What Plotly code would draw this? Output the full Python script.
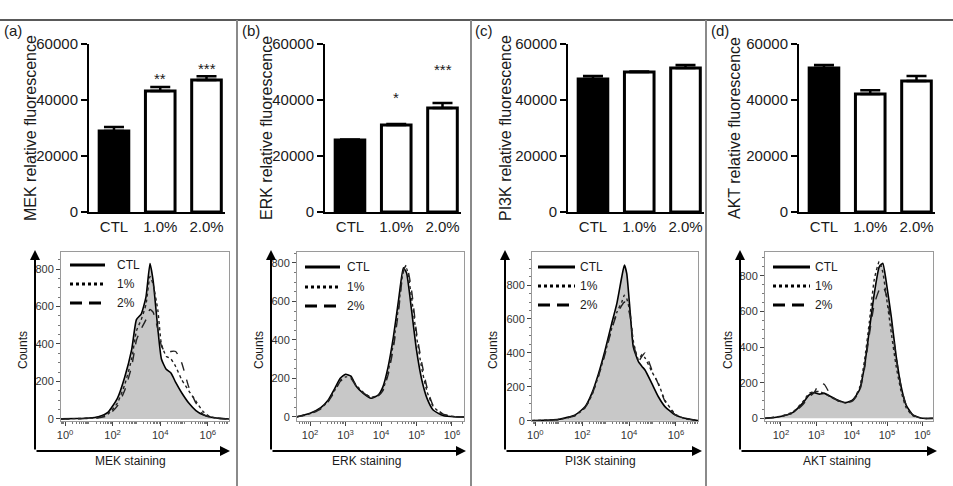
import numpy as np
import plotly.graph_objects as go

W, H = 953, 486
FONT = "Arial, Liberation Sans, sans-serif"

# ---------------- data ----------------
CATEGORIES = ["CTL", "1.0%", "2.0%"]
PROTEINS = ["MEK", "ERK", "PI3K", "AKT"]
PANEL_LABELS = ["(a)", "(b)", "(c)", "(d)"]
BAR_TICKS = [0, 20000, 40000, 60000]

MEK_MEAN = [28900, 43200, 47100]
MEK_ERR = [1450, 1400, 1400]
ERK_MEAN = [25700, 31100, 37100]
ERK_ERR = [150, 300, 1800]
PI3K_MEAN = [47500, 50000, 51400]
PI3K_ERR = [1100, 150, 1100]
AKT_MEAN = [51400, 42100, 46800]
AKT_ERR = [1100, 1400, 1800]

MEK_SIG = ["", "**", "***"]
ERK_SIG = ["", "*", "***"]
PI3K_SIG = ["", "", ""]
AKT_SIG = ["", "", ""]
MEK_SIG_Y = [0, 47600, 51400]
ERK_SIG_Y = [0, 40800, 51000]
PI3K_SIG_Y = [0, 0, 0]
AKT_SIG_Y = [0, 0, 0]

HIST_LEGEND = ["CTL", "1%", "2%"]

# histogram curves: x as log10(staining), y as counts
MEK_LOGX = [-0.2, 0.5, 1.0, 1.4, 1.8, 2.2, 2.5, 2.8, 3.0, 3.2, 3.4, 3.57, 3.7, 3.9, 4.05,
            4.25, 4.45, 4.65, 4.9, 5.2, 5.5, 5.8, 6.1, 6.5, 6.9]
MEK_CTL = [0, 2, 5, 12, 35, 110, 220, 370, 530, 560, 650, 830, 740, 480, 320,
           265, 245, 195, 140, 85, 45, 22, 10, 3, 0]
MEK_1 = [0, 2, 4, 8, 25, 85, 180, 320, 470, 530, 610, 760, 720, 580, 400,
         335, 320, 280, 210, 150, 95, 40, 12, 3, 0]
MEK_2 = [0, 1, 3, 6, 18, 70, 150, 280, 420, 480, 530, 585, 570, 480, 390,
         350, 360, 360, 300, 170, 85, 25, 8, 2, 0]

ERK_LOGX = [1.6, 2.0, 2.3, 2.5, 2.7, 2.85, 3.0, 3.15, 3.3, 3.5, 3.72, 3.92, 4.05, 4.2,
            4.35, 4.5, 4.63, 4.72, 4.86, 5.0, 5.15, 5.3, 5.47, 5.75, 6.1, 6.35]
ERK_CTL = [0, 19, 48, 85, 150, 201, 222, 212, 160, 123, 97, 114, 155, 260,
           417, 615, 775, 748, 556, 348, 192, 95, 36, 7, 0, 0]
ERK_1 = [0, 17, 45, 80, 140, 190, 208, 205, 165, 128, 103, 112, 140, 235,
         385, 580, 755, 770, 620, 420, 250, 130, 55, 12, 2, 0]
ERK_2 = [0, 15, 42, 78, 135, 185, 205, 200, 160, 125, 100, 110, 135, 220,
         360, 560, 760, 790, 660, 440, 280, 150, 60, 15, 2, 0]

PI3K_LOGX = [-0.15, 1.0, 1.7, 2.13, 2.41, 2.7, 2.98, 3.26, 3.48, 3.69, 3.8, 3.9, 4.04,
             4.18, 4.4, 4.55, 4.68, 4.97, 5.25, 5.53, 5.96, 6.38, 6.95]
PI3K_CTL = [0, 8, 34, 83, 161, 279, 417, 574, 692, 849, 918, 869, 653,
            436, 348, 320, 299, 220, 141, 83, 34, 14, 0]
PI3K_1 = [0, 7, 30, 78, 150, 265, 400, 545, 640, 700, 740, 720, 640,
          470, 360, 390, 370, 290, 220, 120, 40, 12, 0]
PI3K_2 = [0, 7, 30, 78, 150, 265, 395, 540, 630, 680, 700, 690, 620,
          460, 350, 380, 400, 300, 215, 115, 35, 12, 0]

AKT_LOGX = [1.55, 1.95, 2.33, 2.61, 2.8, 2.94, 3.09, 3.23, 3.42, 3.6, 3.84, 4.03, 4.22,
            4.36, 4.5, 4.64, 4.78, 4.88, 4.97, 5.12, 5.26, 5.4, 5.54, 5.73, 6.01, 6.3]
AKT_CTL = [0, 9, 32, 84, 131, 144, 136, 140, 121, 103, 88, 103, 159,
           289, 495, 701, 850, 870, 776, 570, 346, 177, 75, 19, 0, 0]
AKT_1 = [0, 10, 35, 90, 140, 150, 150, 140, 118, 100, 85, 100, 170,
         320, 540, 780, 880, 820, 700, 480, 290, 150, 60, 15, 0, 0]
AKT_2 = [0, 8, 28, 75, 120, 145, 195, 190, 125, 100, 88, 98, 150,
         275, 470, 640, 720, 740, 700, 540, 340, 175, 75, 18, 0, 0]

HIST_TICK_EXP_WIDE = [0, 2, 4, 6]
HIST_TICK_EXP_NARROW = [2, 3, 4, 5, 6]
HIST_Y_TICKS = [0, 200, 400, 600, 800]

# ---------------- layout geometry (pixels) ----------------
BAR_AXIS_PX = [89, 325, 568, 799]
BAR_W_PX = 136
BAR_TOP, BAR_BOT = 44, 212
HIST_BOX = [(61, 229), (297, 464), (532, 698), (765, 933)]
HIST_TOP, HIST_BOT = 252, 421
HIST_XRANGE = [(-0.17, 6.89), (1.63, 6.34), (-0.14, 6.94), (1.55, 6.3)]
HIST_YRANGE = [(-11, 891), (-21, 857), (-2, 995), (-15, 933)]
ARROW_X = [35, 271, 505, 740]
ARROW_END = [230, 466, 702, 937]
ARROW_Y0, ARROW_TOP = 451, 250
COUNTS_X = [23, 259, 493, 728]
STAIN_X = [130, 366, 600, 837]
BARTITLE_X = [30, 266, 505, 734]
PANEL_X = [13, 251, 484, 720]
LEG_X0 = [70, 305, 538, 773]
LEG_X1 = [105, 340, 575, 810]
LEG_TX = [115, 345, 578, 813]
LEG_Y = [[265, 284, 303], [267, 287, 306], [267, 286, 305], [267, 286, 305]]
SEPARATORS = [237, 471, 706]
TXT = "#1a1a1a"


def px(x):
    return x / W


def py(y):
    return 1 - y / H


def label(x, y, text, size, angle=0, xanchor="center"):
    return dict(x=px(x), y=py(y), xref="paper", yref="paper", text=text,
                textangle=angle, showarrow=False, xanchor=xanchor, yanchor="middle",
                font=dict(size=size, family=FONT, color=TXT))


means = [MEK_MEAN, ERK_MEAN, PI3K_MEAN, AKT_MEAN]
errs = [MEK_ERR, ERK_ERR, PI3K_ERR, AKT_ERR]
sigs = [MEK_SIG, ERK_SIG, PI3K_SIG, AKT_SIG]
sig_ys = [MEK_SIG_Y, ERK_SIG_Y, PI3K_SIG_Y, AKT_SIG_Y]
hx = [MEK_LOGX, ERK_LOGX, PI3K_LOGX, AKT_LOGX]
hctl = [MEK_CTL, ERK_CTL, PI3K_CTL, AKT_CTL]
h1 = [MEK_1, ERK_1, PI3K_1, AKT_1]
h2 = [MEK_2, ERK_2, PI3K_2, AKT_2]

fig = go.Figure()
layout = dict(
    width=W, height=H, margin=dict(l=0, r=0, t=0, b=0, pad=0, autoexpand=False),
    paper_bgcolor="white", plot_bgcolor="white",
    font=dict(family=FONT, color=TXT),
    showlegend=False,
)
annotations = []
shapes = []

for i in range(4):
    # ---------- bar chart ----------
    bx, by = f"x{i + 1}", f"y{i + 1}"
    fig.add_trace(go.Bar(
        x=[0, 1, 2], y=means[i], width=0.64,
        marker=dict(color=["black", "white", "white"], line=dict(color="black", width=3)),
        error_y=dict(type="data", array=errs[i], arrayminus=[0, 0, 0], symmetric=False,
                     color="black", thickness=2.5, width=10),
        xaxis=bx, yaxis=by, hoverinfo="skip",
    ))
    a0 = BAR_AXIS_PX[i]
    layout[f"xaxis{i + 1}"] = dict(
        domain=[px(a0), px(a0 + BAR_W_PX)], range=[-0.54, 2.4], anchor=by,
        tickvals=[0, 1, 2], ticktext=CATEGORIES, ticks="", showline=True,
        linecolor="black", linewidth=2, showgrid=False, zeroline=False, automargin=False,
        tickfont=dict(size=15, family=FONT, color=TXT),
    )
    layout[f"yaxis{i + 1}"] = dict(
        domain=[py(BAR_BOT), py(BAR_TOP)], range=[0, 60000], anchor=bx,
        tickvals=BAR_TICKS, ticktext=[str(t) for t in BAR_TICKS], ticks="outside",
        ticklen=6, tickwidth=2, tickcolor="black", showline=True, linecolor="black",
        linewidth=2, showgrid=False, zeroline=False, automargin=False,
        tickfont=dict(size=15, family=FONT, color=TXT),
    )
    for k in range(3):
        if sigs[i][k]:
            annotations.append(dict(
                x=k, y=sig_ys[i][k], xref=bx, yref=by, text=sigs[i][k], showarrow=False,
                font=dict(size=15, family=FONT, color=TXT), xanchor="center",
                yanchor="middle",
            ))
    annotations.append(label(BARTITLE_X[i], 128, f"{PROTEINS[i]} relative fluorescence",
                             16, angle=-90))
    annotations.append(label(PANEL_X[i], 31, PANEL_LABELS[i], 15))

    # ---------- histogram ----------
    j = i + 5
    hxa, hya = f"x{j}", f"y{j}"
    xv = 10 ** np.array(hx[i], dtype=float)
    fig.add_trace(go.Scatter(
        x=xv, y=hctl[i], mode="lines", fill="tozeroy", fillcolor="#c8c8c8",
        line=dict(color="black", width=1.6, shape="spline", smoothing=0.5),
        xaxis=hxa, yaxis=hya, hoverinfo="skip",
    ))
    fig.add_trace(go.Scatter(
        x=xv, y=h1[i], mode="lines",
        line=dict(color="#222222", width=1.4, dash="dot", shape="spline", smoothing=0.5),
        xaxis=hxa, yaxis=hya, hoverinfo="skip",
    ))
    fig.add_trace(go.Scatter(
        x=xv, y=h2[i], mode="lines",
        line=dict(color="#222222", width=1.4, dash="dash", shape="spline", smoothing=0.5),
        xaxis=hxa, yaxis=hya, hoverinfo="skip",
    ))
    exps = HIST_TICK_EXP_WIDE if i in (0, 2) else HIST_TICK_EXP_NARROW
    lo, hi = HIST_XRANGE[i]
    minor_vals = [m * 10 ** d for d in range(int(np.floor(lo)), int(np.ceil(hi)) + 1)
                  for m in range(1, 10)]
    minor_vals = [v for v in minor_vals if lo <= np.log10(v) <= hi]
    L, R = HIST_BOX[i]
    layout[f"xaxis{j}"] = dict(
        type="log", domain=[px(L), px(R)], range=[lo, hi], anchor=hya,
        tickvals=[10 ** e for e in exps], ticktext=[f"10<sup>{e}</sup>" for e in exps],
        ticks="outside", ticklen=4, tickcolor="#444", showline=True, mirror=True,
        linecolor="#9a9a9a", linewidth=1, showgrid=False, zeroline=False, automargin=False,
        tickfont=dict(size=11, family=FONT, color="#333"),
        minor=dict(tickmode="array", tickvals=minor_vals, ticks="outside", ticklen=2,
                   tickcolor="#777", showgrid=False),
    )
    layout[f"yaxis{j}"] = dict(
        domain=[py(HIST_BOT), py(HIST_TOP)], range=list(HIST_YRANGE[i]), anchor=hxa,
        tickvals=HIST_Y_TICKS, ticks="outside", ticklen=4, tickcolor="#444",
        showline=True, mirror=True, linecolor="#9a9a9a", linewidth=1,
        showgrid=False, zeroline=False, automargin=False,
        tickfont=dict(size=11, family=FONT, color="#333"),
        minor=dict(dtick=50, ticks="outside", ticklen=2, tickcolor="#777", showgrid=False),
    )
    # arrow axes
    annotations.append(dict(
        x=px(ARROW_X[i]), y=py(ARROW_TOP), xref="paper", yref="paper", text="",
        showarrow=True, ax=0, ay=ARROW_Y0 - ARROW_TOP, arrowhead=2, arrowsize=1,
        arrowwidth=2, arrowcolor="black", standoff=0,
    ))
    annotations.append(dict(
        x=px(ARROW_END[i]), y=py(ARROW_Y0), xref="paper", yref="paper", text="",
        showarrow=True, ax=-(ARROW_END[i] - ARROW_X[i]), ay=0, arrowhead=2, arrowsize=1,
        arrowwidth=2, arrowcolor="black", standoff=0,
    ))
    annotations.append(label(COUNTS_X[i], 350, "Counts", 12, angle=-90))
    annotations.append(label(STAIN_X[i], 461, f"{PROTEINS[i]} staining", 12))
    # legend
    dashes = ["solid", "3px,3px", "12px,7px"]
    for k in range(3):
        yy = py(LEG_Y[i][k])
        shapes.append(dict(
            type="line", xref="paper", yref="paper", x0=px(LEG_X0[i]), x1=px(LEG_X1[i]),
            y0=yy, y1=yy, line=dict(color="black", width=3, dash=dashes[k]),
        ))
        annotations.append(label(LEG_TX[i], LEG_Y[i][k], HIST_LEGEND[k], 12, xanchor="left"))

# frame lines
shapes.append(dict(type="line", xref="paper", yref="paper", x0=0, x1=1,
                   y0=py(20), y1=py(20), line=dict(color="#222", width=1.5)))
for s in SEPARATORS:
    shapes.append(dict(type="line", xref="paper", yref="paper", x0=px(s), x1=px(s),
                       y0=0, y1=py(20), line=dict(color="#8a8a8a", width=2)))

layout["annotations"] = annotations
layout["shapes"] = shapes
fig.update_layout(**layout)
fig.write_html("out.html")
